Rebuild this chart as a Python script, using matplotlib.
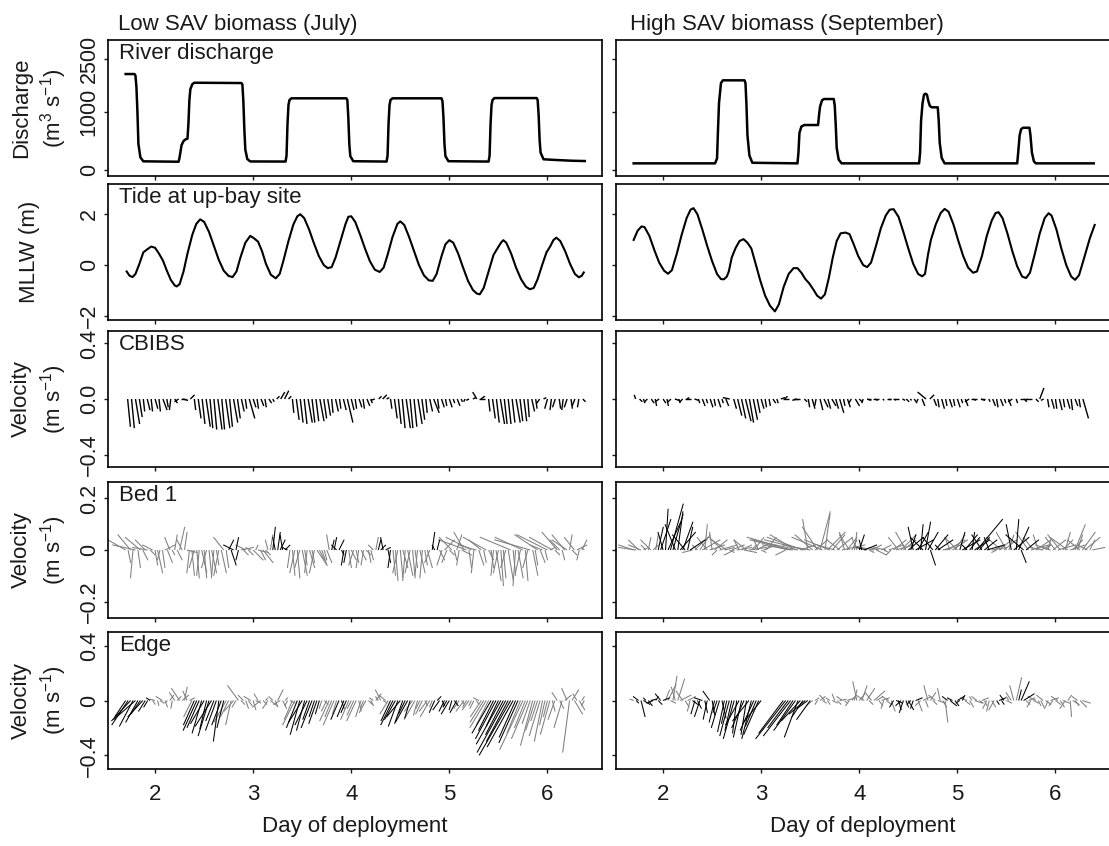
import matplotlib
matplotlib.use('Agg')
import matplotlib.pyplot as plt
import numpy as np
from matplotlib.collections import LineCollection

plt.rcParams.update({
    'font.family': ['Liberation Sans', 'DejaVu Sans'],
    'font.size': 16,
    'mathtext.fontset': 'custom',
    'mathtext.rm': 'Liberation Sans',
    'mathtext.it': 'Liberation Sans:italic',
    'axes.linewidth': 1.2,
    'text.color': '#1a1a1a',
    'xtick.color': '#1a1a1a',
    'ytick.color': '#1a1a1a',
    'xtick.labelsize': 16,
    'ytick.labelsize': 15.5,
})
nan = np.nan

# ---------------- data ----------------
# river discharge (m3/s)
q_jul_day = [1.70, 1.79, 1.80, 1.81, 1.82, 1.83, 1.85, 1.88, 2.24, 2.25, 2.27, 2.29, 2.31, 2.33,
             2.34, 2.35, 2.36, 2.38, 2.40, 2.88, 2.89, 2.90, 2.91, 2.92, 2.94, 2.97, 3.33, 3.34,
             3.35, 3.36, 3.37, 3.39, 3.95, 3.96, 3.97, 3.98, 3.99, 4.02, 4.36, 4.37, 4.38, 4.39,
             4.40, 4.42, 4.92, 4.93, 4.94, 4.95, 4.96, 4.99, 5.40, 5.41, 5.42, 5.43, 5.44, 5.46,
             5.89, 5.90, 5.91, 5.92, 5.93, 5.96, 6.10, 6.25, 6.38]
q_jul_val = [2075, 2075, 2030, 1700, 1000, 450, 220, 150, 143, 220, 430, 500, 529, 540,
             800, 1350, 1650, 1790, 1829, 1820, 1780, 1300, 700, 350, 190, 148, 146, 250,
             800, 1200, 1340, 1388, 1388, 1340, 900, 450, 240, 152, 146, 250, 800, 1200,
             1340, 1388, 1388, 1300, 900, 450, 240, 152, 146, 250, 800, 1200, 1340, 1395,
             1395, 1340, 950, 520, 300, 185, 172, 160, 155]
q_sep_day = [1.70, 2.53, 2.55, 2.56, 2.57, 2.59, 2.61, 2.83, 2.84, 2.85, 2.86, 2.88, 2.91, 3.37,
             3.38, 3.39, 3.41, 3.44, 3.58, 3.59, 3.60, 3.62, 3.64, 3.74, 3.75, 3.76, 3.77, 3.79,
             3.82, 4.61, 4.62, 4.63, 4.645, 4.66, 4.675, 4.69, 4.705, 4.72, 4.74, 4.80, 4.81,
             4.82, 4.84, 4.87, 5.61, 5.62, 5.635, 5.65, 5.67, 5.735, 5.745, 5.76, 5.78, 5.80, 6.39]
q_sep_val = [115, 115, 200, 700, 1250, 1820, 1897, 1897, 1820, 1200, 600, 250, 125, 115,
             300, 640, 750, 776, 776, 950, 1150, 1330, 1368, 1368, 1180, 780, 380, 180,
             115, 115, 300, 850, 1250, 1490, 1518, 1490, 1300, 1170, 1133, 1133, 850,
             470, 210, 115, 115, 300, 600, 705, 729, 729, 600, 300, 150, 115, 115]

# tide at up-bay site (m, MLLW)
tide_jul_day = [1.71, 1.74, 1.77, 1.80, 1.84, 1.88, 1.92, 1.96, 2.00, 2.04, 2.08, 2.12, 2.16, 2.20,
                2.22, 2.25, 2.29, 2.33, 2.38, 2.42, 2.46, 2.50, 2.55, 2.60, 2.65, 2.70, 2.75, 2.79,
                2.83, 2.87, 2.92, 2.97, 3.01, 3.05, 3.09, 3.13, 3.18, 3.23, 3.27, 3.31, 3.36, 3.41,
                3.45, 3.48, 3.52, 3.57, 3.62, 3.67, 3.72, 3.76, 3.80, 3.84, 3.89, 3.94, 3.97, 4.00,
                4.04, 4.09, 4.14, 4.19, 4.24, 4.29, 4.33, 4.37, 4.42, 4.47, 4.50, 4.54, 4.59, 4.64,
                4.69, 4.74, 4.79, 4.83, 4.87, 4.92, 4.96, 5.00, 5.04, 5.09, 5.14, 5.19, 5.24, 5.28,
                5.31, 5.35, 5.40, 5.45, 5.50, 5.53, 5.55, 5.58, 5.63, 5.68, 5.73, 5.78, 5.82, 5.86,
                5.90, 5.95, 5.99, 6.03, 6.06, 6.09, 6.13, 6.18, 6.23, 6.28, 6.32, 6.35, 6.37]
tide_jul_val = [-0.25, -0.42, -0.47, -0.35, 0.05, 0.50, 0.62, 0.73, 0.68, 0.45, 0.18, -0.22, -0.58, -0.80,
                -0.84, -0.75, -0.25, 0.45, 1.20, 1.62, 1.80, 1.70, 1.30, 0.75, 0.20, -0.22, -0.43, -0.47,
                -0.25, 0.30, 0.88, 1.15, 1.05, 0.92, 0.55, 0.05, -0.38, -0.52, -0.35, 0.20, 0.95, 1.60,
                1.92, 2.00, 1.85, 1.40, 0.85, 0.35, 0.00, -0.12, -0.08, 0.30, 0.95, 1.60, 1.90, 1.92,
                1.70, 1.20, 0.65, 0.15, -0.18, -0.27, -0.10, 0.40, 1.10, 1.62, 1.72, 1.58, 1.10, 0.55,
                0.00, -0.40, -0.60, -0.62, -0.35, 0.35, 0.82, 0.98, 0.88, 0.45, -0.10, -0.62, -0.98, -1.12,
                -1.15, -0.90, -0.25, 0.40, 0.72, 0.90, 0.98, 0.88, 0.45, -0.10, -0.55, -0.85, -0.95, -0.90,
                -0.55, 0.05, 0.50, 0.75, 0.98, 1.08, 0.95, 0.55, 0.05, -0.35, -0.48, -0.42, -0.29]
tide_sep_day = [1.70, 1.74, 1.78, 1.81, 1.86, 1.91, 1.96, 2.01, 2.05, 2.09, 2.14, 2.19, 2.24, 2.28,
                2.31, 2.35, 2.40, 2.45, 2.50, 2.55, 2.59, 2.62, 2.65, 2.67, 2.70, 2.74, 2.78, 2.82,
                2.86, 2.90, 2.94, 2.99, 3.04, 3.09, 3.14, 3.18, 3.23, 3.28, 3.33, 3.37, 3.41, 3.45,
                3.49, 3.53, 3.57, 3.61, 3.65, 3.69, 3.73, 3.77, 3.81, 3.86, 3.90, 3.94, 3.99, 4.04,
                4.08, 4.12, 4.17, 4.22, 4.27, 4.31, 4.35, 4.40, 4.45, 4.50, 4.55, 4.60, 4.64, 4.67,
                4.70, 4.73, 4.78, 4.83, 4.87, 4.91, 4.96, 5.01, 5.06, 5.11, 5.16, 5.20, 5.25, 5.30,
                5.35, 5.39, 5.42, 5.46, 5.51, 5.56, 5.61, 5.66, 5.70, 5.74, 5.79, 5.84, 5.89, 5.93,
                5.96, 6.01, 6.06, 6.11, 6.16, 6.20, 6.24, 6.29, 6.35, 6.40]
tide_sep_val = [0.99, 1.35, 1.52, 1.50, 1.15, 0.60, 0.10, -0.22, -0.34, -0.20, 0.45, 1.20, 1.85, 2.18,
                2.24, 2.00, 1.40, 0.75, 0.15, -0.35, -0.55, -0.56, -0.45, -0.25, 0.30, 0.68, 0.95, 1.02,
                0.88, 0.65, 0.10, -0.60, -1.20, -1.60, -1.82, -1.55, -0.85, -0.35, -0.12, -0.12, -0.30, -0.55,
                -0.72, -0.95, -1.20, -1.32, -1.15, -0.50, 0.30, 0.95, 1.25, 1.28, 1.22, 0.85, 0.35, 0.00,
                -0.08, 0.10, 0.75, 1.45, 1.95, 2.18, 2.20, 1.90, 1.30, 0.65, 0.05, -0.35, -0.44, -0.35,
                0.40, 0.99, 1.60, 2.05, 2.21, 2.10, 1.60, 0.95, 0.35, -0.10, -0.30, -0.25, 0.35, 1.15,
                1.75, 2.05, 2.08, 1.85, 1.25, 0.55, -0.05, -0.45, -0.51, -0.30, 0.45, 1.25, 1.85, 2.04,
                1.95, 1.40, 0.65, 0.00, -0.45, -0.58, -0.40, 0.25, 1.05, 1.58]

# CBIBS velocity (cm/s), regular sampling
cbibs_t0, cbibs_dt = 1.72, 0.04
cbibs_jul_v = [-20, -21, -18, -13, -9, -8, -9, -7, -9, -8,
               -6, -8, -3, -2, -1, 0, 3, -8, -14, -18,
               -20, -21, -22, -22, -22, -21, -20, -17, -14, -9,
               -7, -14, -6, -7, -5, -6, -3, -2, 2, 5,
               6, 2, -10, -15, -17, -18, -17, -17, -16, -16,
               -14, -12, -10, -9, -7, -8, -17, -8, -7, -6,
               -7, -5, -3, -1, 2, 3, 1, -7, -14, -18,
               -21, -21, -21, -20, -18, -15, -10, -9, -10, -7,
               -6, -5, -6, -3, -5, -2, -2, -1, 1, 5,
               2, 0, -9, -14, -17, -18, -18, -18, -17, -17,
               -16, -16, -13, -9, -7, -3, 1, -7, -8, -6,
               -7, -8, -6, -7, -5, -6, -2]
cbibs_jul_u = [2, 2, 3, 2, 1, 2, 1, 2, 1, 3,
               1, -1, 2, -3, 4, -4, 3, 1, 2, 2,
               3, 2, 2, 3, 2, 3, 2, 3, 2, 2,
               1, 4, 2, 1, 2, 1, 2, 1, 2, 3,
               3, 2, 1, 2, 2, 2, 3, 2, 2, 3,
               2, 2, 1, 2, 1, 2, 4, 2, 1, 2,
               1, 2, 1, -3, 2, 3, 2, 1, 2, 2,
               2, 3, 2, 2, 3, 2, 1, 2, 4, 1,
               2, 1, 2, 1, 2, 1, -1, -2, 2, -3,
               3, -4, 1, 2, 2, 3, 2, 2, 2, 3,
               2, 2, 1, 2, 1, -2, 2, -2, -1, -2,
               1, -1, -2, 1, -2, -1, 2]
cbibs_sep_v = [3, -2, -3, -2, -3, -5, -2, -3, -5, -2,
               -1, -3, -2, 1, 0, -1, -3, -5, -3, -6,
               -5, -6, -3, -5, 1, -7, -12, -14, -16, -17,
               -15, -10, -7, -6, -5, -3, -3, 1, 2, 0,
               0, -1, 0, -2, -6, -7, -5, -8, -6, -7,
               -5, -7, -10, -5, -6, -3, -5, -2, -3, -1,
               0, -1, 0, -1, 0, 0, -1, 0, -1, -2,
               -1, -3, -2, -5, 5, 3, -5, -6, -7, -5,
               -6, -5, -6, -3, -5, -2, -1, 0, -1, 0,
               -2, -5, -6, -5, -3, -5, -2, -3, 0, -2,
               -1, 0, -2, 8, -1, -6, -7, -7, -8, -6,
               -7, -8, -5, -6, -14]
cbibs_sep_u = [-1, 2, 1, -2, 2, 1, -3, 2, 1, -2,
               3, 1, -2, 2, -4, 3, 1, 2, 1, 2,
               1, 2, 1, 2, -5, 2, 3, 3, 4, 3,
               3, 2, 2, 1, 1, 2, 1, 3, 2, -4,
               4, -3, -4, 2, 1, 2, -1, 2, 3, 2,
               3, 2, 3, 1, 2, -2, 3, 2, -1, 3,
               -3, 2, -4, 1, 3, -2, 1, -4, 2, 2,
               1, 2, -1, 2, -6, 3, 2, 1, 2, 1,
               2, 1, 2, 1, 2, -3, 2, -4, 3, -3,
               1, 2, 1, 2, 1, 2, -3, 1, 4, 2,
               -2, -4, 2, 3, -2, 1, 2, 1, 2, 1,
               2, 1, 2, 1, 4]

# near-bed velocity in/at the SAV bed (cm/s), regular sampling
bed_t0, bed_dt = 1.70, 0.025
bed1_jul_v = [4, -5, 6, -11, 2, -7, 5, -4, 4, 1,
              -2, 2, -6, -9, -4, -7, 2, -5, 5, -2,
              6, -4, 9, 4, 7, -1, -9, -10, -7, -11,
              -10, -9, -11, -7, -10, -9, -11, -6, -10, -9,
              5, -7, 4, -6, 2, 5, -4, 1, -2, 2,
              -2, 1, -4, 2, -1, -4, -5, -2, 4, 6,
              9, 5, 7, 4, 6, 2, 1, -7, -10, -9,
              -11, -7, -10, -6, -9, -7, -5, -9, -6, -4,
              -6, -4, -5, 6, 4, 5, 2, 4, -2, -6,
              -5, -7, -4, -6, -5, -7, -4, -6, -2, -5,
              -4, 2, 5, 4, 2, 5, 1, -5, -7, -10,
              -12, -9, -11, -7, -12, -10, -9, -11, -7, -10,
              -9, -11, -6, -7, -5, 7, 2, 4, -4, -6,
              4, -5, -2, 5, -4, 6, -6, -2, 7, 4,
              -7, 5, -9, 2, -6, 4, -5, 5, -4, -7,
              -10, -12, -9, -14, -11, -7, -12, 5, -10, -14,
              -11, -9, 5, -12, -7, 4, -10, -6, 6, -5,
              2, -4, 6, 1, 5, -2, 7, 4, -4, 6,
              4, 6, -2, 5, 2, -4, 4, 1]
bed1_jul_u = [-7, 1, -5, -1, -9, 1, -6, 2, -4, -6,
              2, -4, 1, 2, -1, 1, 4, 2, -2, 1,
              1, 2, 2, -2, 1, 4, -1, 1, -2, 1,
              -1, 2, 1, -2, 1, 2, -1, 1, -2, 2,
              -4, 1, 2, 2, -4, 1, -1, 5, 2, -4,
              2, -2, 4, 1, 4, 2, 4, 2, -1, 1,
              1, -1, 1, 2, -1, 2, -2, -1, 1, -2,
              1, -2, 2, 1, -1, 2, 1, -2, 4, 2,
              2, 1, 2, -1, 1, 1, -2, 2, 1, -1,
              -1, 1, 2, -2, 1, -1, 2, -1, 2, 1,
              1, -2, 1, 1, 2, -1, 2, 1, -1, 1,
              1, -2, 1, 2, -1, 2, -2, 1, 1, -1,
              2, -1, 1, 2, -2, 1, -1, 1, 2, -2,
              4, -2, 2, -5, 1, 2, -1, 4, -4, -11,
              1, -10, -1, -7, 2, -5, 1, -9, 2, 1,
              -1, 2, -2, 1, 1, -2, 2, -12, 1, -1,
              2, -2, -11, 1, -2, -14, 2, 1, -9, 2,
              -5, 1, -12, 2, -9, 2, -6, -4, 1, -5,
              -6, 1, 2, -4, 4, -1, 2, -1]
bed1_jul_dark = [(2.74, 2.86), (3.18, 3.37), (3.78, 3.95), (4.27, 4.42), (4.82, 4.88)]

bed1_sep_v = [2, 1, 4, 2, 1, 2, 5, 4, 2, 6,
              9, 12, 7, 16, 11, 18, 14, 10, 15, 7,
              11, 6, 9, 4, -1, 5, 2, 6, 4, 10,
              5, 2, 7, 4, -2, 2, 5, 1, 4, -1,
              2, -2, 1, 4, 2, -1, 4, 1, 2, 5,
              2, 4, -1, 2, 5, nan, nan, nan, nan, nan,
              nan, nan, -2, 4, 5, 2, 6, 4, 2, 5,
              4, 12, 2, 6, 4, 9, 15, 5, 14, 7,
              4, 6, 2, 5, 4, 2, 7, 5, 6, 4,
              7, 5, 6, 4, 2, 1, -1, 2, 1, -2,
              1, 2, -1, 1, 2, -2, 4, 2, 5, 6,
              4, 7, 5, 6, 9, 4, 7, 10, 5, 11,
              7, -6, 5, 6, 4, 2, 1, 2, 4, 5,
              4, 6, 5, 7, 4, 6, 2, 5, 7, 4,
              12, 5, 6, 4, 2, 5, 1, 2, -1, 4,
              5, 4, 7, 6, 10, 5, 12, 9, -5, 6,
              4, 7, 2, 5, 4, 6, 2, 1, 2, 4,
              2, 4, 5, 2, 6, 4, 7, 5, 2, 4,
              10, 6, 4, 7, 5, 2, 4, 1]
bed1_sep_u = [-6, -7, -4, -5, 2, -2, 1, -4, 2, 1,
              2, 4, -2, 1, 5, 5, 4, -4, 2, 6,
              4, -5, 2, 6, -4, 5, -2, 4, 7, 1,
              -4, 6, -1, 5, -2, 7, -5, 4, -6, 2,
              5, -4, 6, -2, 4, 5, -5, 7, 2, 4,
              4, -2, 2, 5, 4, nan, nan, nan, nan, nan,
              nan, nan, -4, -15, -17, -12, -10, -18, 6, -14,
              -16, -2, -11, -7, 5, -6, 4, -12, 2, 7,
              -10, 5, -7, 6, -5, 9, -2, 4, -4, 2,
              1, -2, 2, -1, 5, -4, 2, 4, -5, 4,
              -4, 4, 2, -5, 6, -2, 5, 7, -4, 6,
              5, -4, 6, 2, -2, 7, 4, 1, -5, 2,
              4, 2, -4, 5, 6, -2, 4, 5, 7, -2,
              6, 4, -5, 2, 7, 5, -2, 4, 1, 6,
              10, 4, -4, 5, 7, -2, 6, 4, -2, 5,
              -6, 5, -4, 2, -2, 6, 1, 4, 2, -7,
              5, -5, 7, -4, 6, -2, 4, -5, 2, 1,
              -6, 5, -4, 7, -5, 4, 2, -7, 6, 4,
              4, 2, -5, 5, 6, -4, 2, 5]
bed1_sep_dark = [(1.95, 2.28), (4.0, 4.1), (4.5, 4.85), (5.02, 5.35), (5.55, 5.7)]

edge_jul_v = [-12, -18, -15, -19, -14, -16, -10, -12, -8, -5,
              2, -3, 1, -4, -2, 3, -5, -2, 4, -6,
              6, 3, 9, 4, 10, 7, 2, -12, -18, -22,
              -20, -24, -17, -21, -26, -19, -15, -22, -30, -18,
              -20, -16, -12, -18, -8, -5, 11, -3, 4, -6,
              -4, 3, -7, -2, 5, -5, -3, 2, -6, -4,
              3, -5, 8, -3, -6, 2, -4, -2, -14, -18,
              -20, -25, -16, -22, -18, -14, -20, -12, -17, -10,
              -6, -3, -8, -15, -12, -18, -10, -14, -6, -12,
              -9, -14, -6, -11, -15, -8, -12, -5, -9, -3,
              -4, 2, 5, 3, 8, -2, 4, -10, -15, -18,
              -14, -19, -12, -17, -10, -16, -13, -8, -14, -11,
              -6, -10, -4, -8, -12, -5, -9, 3, -7, -4,
              -8, -5, -10, -7, -4, -9, -6, -3, -8, -5,
              -7, -4, -6, -3, 2, -12, -16, -20, -18, -24,
              -22, -28, -19, -32, -25, -38, -30, -40, -34, -27,
              -31, -24, -36, -20, -28, -17, -33, -22, -15, -26,
              -30, -18, -12, -25, -8, -14, 6, -6, -20, 4,
              9, -38, 8, -10, 5, -7, 3, -4]
edge_jul_u = [-8, -12, -14, -10, -16, -9, -7, -11, -5, -3,
              -3, 2, -4, 1, 3, -5, 2, -2, 3, -1,
              -4, 3, -6, 5, 2, -3, 4, -6, -8, -10,
              -9, -7, -10, -5, -8, -12, -6, -8, -4, -7,
              -5, -9, -6, -4, -7, -3, -8, 3, -4, 2,
              3, -5, 2, 4, -3, -6, 3, 2, -4, 5,
              -3, 2, 4, -5, 3, 2, -2, 4, -6, -9,
              -8, -7, -10, -6, -9, -5, -8, -4, -6, -3,
              -2, 3, -4, -7, -5, -8, -3, -6, 2, -5,
              -4, -6, -3, -5, -7, 2, -4, -2, -5, 3,
              2, -3, 4, -2, -4, 3, -5, -6, -7, -9,
              -8, -7, -10, -6, -5, -9, -4, -6, -8, -3,
              -3, -5, 2, -6, -7, -2, -4, 3, -5, 2,
              -4, -3, -6, -2, 3, -5, -4, 2, -6, -3,
              -5, -2, -3, 2, -4, -8, -10, -12, -9, -14,
              -11, -15, -9, -18, -13, -21, -16, -23, -19, -12,
              -14, -10, -17, -8, -12, -6, -9, -7, -5, -8,
              -6, -4, -3, -7, 2, -5, -4, 3, -6, 5,
              -4, -5, 5, 6, -3, 4, 2, -2]
edge_jul_dark = [(1.70, 1.95), (2.40, 2.70), (3.45, 3.68), (3.85, 3.95), (4.40, 4.62),
                 (4.85, 5.10), (5.42, 5.72)]

edge_sep_v = [1, -2, 3, -12, -3, 2, -4, 1, -2, 3,
              -3, 5, 2, 8, 12, -2, 18, 10, 16, 4,
              7, -5, 3, -8, -3, -10, -6, -12, 2, -9,
              -14, 7, -11, -16, -9, -20, -13, -23, -17, -26,
              -22, -28, -24, -18, -27, -20, -25, -15, -28, -22,
              -19, -25, -16, nan, nan, nan, nan, nan, nan, nan,
              nan, -24, -28, -20, -26, -18, -22, -27, -15, -12,
              -10, -6, -14, -4, 2, -3, 3, -2, 4, -3,
              2, -2, 5, -3, 1, 3, -2, 2, -4, 4,
              8, 14, 6, 11, 4, 9, -3, 5, 7, 3,
              -4, 2, -6, -3, 3, -8, -5, -2, -7, -4,
              -9, -5, -7, -3, -6, 2, -8, -4, 3, -5,
              11, 6, -3, 4, -2, 9, -5, -16, 3, -4,
              2, -4, 3, -2, 4, -3, 2, -5, 3, -2,
              3, -2, 2, -4, -6, -8, -5, -7, -3, 2,
              -3, 4, -2, 3, 6, 11, 17, 8, 14, 5,
              -3, 2, -5, -2, 3, -4, -6, 4, -3, -5,
              2, -4, -3, 3, -5, -2, -6, 4, -12, -3,
              -4, 3, -5, -2, nan, nan, nan, nan]
edge_sep_u = [-3, 2, -4, 3, 5, -2, 3, 4, -5, 2,
              3, -4, 5, 3, 6, 4, 3, -3, 5, 8,
              -5, 3, 6, -2, 4, -3, 3, -4, -6, 2,
              -3, -5, 2, -4, -3, -6, 3, -5, -4, -7,
              -5, -8, -3, -10, -6, -9, -4, -12, -7, -10,
              -8, -11, -13, nan, nan, nan, nan, nan, nan, nan,
              nan, -18, -22, -15, -20, -12, -16, -10, -14, -8,
              -12, -8, -10, -5, 3, -2, 4, 3, -4, 2,
              -3, 4, -2, 3, 5, -4, 2, 6, -3, 3,
              2, -3, 5, 4, -6, 6, 3, -4, 8, 5,
              3, 6, -2, 4, -5, 3, -3, 5, 2, -4,
              -3, 2, 4, -3, -2, 5, 3, -4, 6, 2,
              -3, 4, 3, -5, 6, -2, 3, 2, -4, 5,
              -4, 3, 5, -3, 2, 4, -5, 3, -2, 6,
              -4, 3, 5, 2, -3, -2, 3, -4, 2, 5,
              2, -3, 4, -2, -4, -3, 4, 2, 6, 8,
              3, 5, -3, 4, -6, 2, 3, -5, 4, -2,
              6, -3, 4, -5, 3, 5, -4, 3, 1, 5,
              3, -4, 5, 6, nan, nan, nan, nan]
edge_sep_dark = [(1.72, 2.00), (2.30, 3.01), (3.22, 3.50), (4.35, 4.60), (4.90, 5.05),
                 (5.40, 5.48), (5.62, 5.68)]

col_titles = ['Low SAV biomass (July)', 'High SAV biomass (September)']
row_names = ['River discharge', 'Tide at up-bay site', 'CBIBS', 'Bed 1', 'Edge']

# ---------------- layout ----------------
W, H = 1109, 846
fig = plt.figure(figsize=(W / 100, H / 100), dpi=100)
col_left = [108, 616]
ax_w = 494
row_top = [40, 184, 331, 482, 632]
row_h = [136, 136, 136, 136, 137]
xlim = (1.52, 6.556)
gray = '#7f7f7f'

axes = [[None, None] for _ in range(5)]
for r in range(5):
    for c in range(2):
        ax = fig.add_axes([col_left[c] / W, 1 - (row_top[r] + row_h[r]) / H,
                           ax_w / W, row_h[r] / H])
        ax.set_xlim(*xlim)
        ax.set_xticks([2, 3, 4, 5, 6])
        ax.tick_params(direction='out', length=3, width=1.0)
        ax.tick_params(axis='x', pad=8, labelbottom=(r == 4))
        ax.tick_params(axis='y', pad=3, labelrotation=90, labelleft=(c == 0))
        axes[r][c] = ax

# discharge axis spacing as in the original (0-1000 wider than 1000-2500)
q_knots = [-1000, 0, 1000, 2500, 4000]
q_pos = [-1, 0, 1, 1.914, 2.828]
def q_fwd(v):
    return np.interp(v, q_knots, q_pos)
def q_inv(p):
    return np.interp(p, q_pos, q_knots)


def stick_plot(ax, t0, dt, u_cm, v_cm, dark, lw):
    u = np.asarray(u_cm, float) / 100
    v = np.asarray(v_cm, float) / 100
    t = t0 + dt * np.arange(len(v))
    x0, x1 = ax.get_xlim()
    y0, y1 = ax.get_ylim()
    # keep true stick angles on screen
    k = (ax.bbox.height / (y1 - y0)) / (ax.bbox.width / (x1 - x0))
    ok = ~np.isnan(v)
    is_dark = np.array([any(a <= ti <= b for a, b in dark) for ti in t])
    for sel, col in [(ok & ~is_dark, gray), (ok & is_dark, 'black')]:
        segs = [[(ti, 0), (ti + ui * k, vi)] for ti, ui, vi in zip(t[sel], u[sel], v[sel])]
        ax.add_collection(LineCollection(segs, colors=col, linewidths=lw))


# row 1: discharge
for c, (d, q) in enumerate([(q_jul_day, q_jul_val), (q_sep_day, q_sep_val)]):
    ax = axes[0][c]
    ax.set_yscale('function', functions=(q_fwd, q_inv))
    ax.set_ylim(-103, 3038)
    ax.set_yticks([0, 1000, 2500])
    ax.set_yticklabels(['0', '1000', '2500'])
    ax.plot(d, q, color='black', lw=1.8)

# row 2: tide
for c, (d, h) in enumerate([(tide_jul_day, tide_jul_val), (tide_sep_day, tide_sep_val)]):
    ax = axes[1][c]
    ax.set_ylim(-2.16, 3.19)
    ax.set_yticks([-2, 0, 2])
    ax.set_yticklabels(['\u22122', '0', '2'])
    ax.plot(d, h, color='black', lw=1.5)

# row 3: CBIBS
for c, (u, v) in enumerate([(cbibs_jul_u, cbibs_jul_v), (cbibs_sep_u, cbibs_sep_v)]):
    ax = axes[2][c]
    ax.set_ylim(-0.49, 0.49)
    ax.set_yticks([-0.4, 0, 0.4])
    ax.set_yticklabels(['\u22120.4', '0.0', '0.4'])
    stick_plot(ax, cbibs_t0, cbibs_dt, u, v, [(0, 10)], 1.0)

# row 4: Bed 1
for c, (u, v, dk) in enumerate([(bed1_jul_u, bed1_jul_v, bed1_jul_dark),
                                (bed1_sep_u, bed1_sep_v, bed1_sep_dark)]):
    ax = axes[3][c]
    ax.set_ylim(-0.264, 0.264)
    ax.set_yticks([-0.2, 0, 0.2])
    ax.set_yticklabels(['\u22120.2', '0', '0.2'])
    stick_plot(ax, bed_t0, bed_dt, u, v, dk, 0.75)

# row 5: Edge
for c, (u, v, dk) in enumerate([(edge_jul_u, edge_jul_v, edge_jul_dark),
                                (edge_sep_u, edge_sep_v, edge_sep_dark)]):
    ax = axes[4][c]
    ax.set_ylim(-0.5, 0.5)
    ax.set_yticks([-0.4, 0, 0.4])
    ax.set_yticklabels(['\u22120.4', '0', '0.4'])
    stick_plot(ax, bed_t0, bed_dt, u, v, dk, 0.75)
    ax.text(0.5, -0.42, 'Day of deployment', transform=ax.transAxes,
            ha='center', va='center')

for r in range(5):
    for c in range(2):
        for lab in axes[r][c].get_yticklabels():
            lab.set_va('center')
    axes[r][0].text(0.023, 0.978, row_names[r], transform=axes[r][0].transAxes,
                    ha='left', va='top')

# y labels (left column only)
ylabels = ['Discharge\n(m$^{3}$ s$^{-1}$)', 'MLLW (m)', 'Velocity\n(m s$^{-1}$)',
           'Velocity\n(m s$^{-1}$)', 'Velocity\n(m s$^{-1}$)']
for r, lab in enumerate(ylabels):
    xpos = -0.158 if r == 1 else -0.138
    axes[r][0].text(xpos, 0.5, lab, transform=axes[r][0].transAxes, rotation=90,
                    ha='center', va='center', linespacing=1.25)

fig.text(118 / W, 1 - 14 / H, col_titles[0], ha='left', va='top')
fig.text(630 / W, 1 - 14 / H, col_titles[1], ha='left', va='top')

fig.savefig('out.png', dpi=100)
